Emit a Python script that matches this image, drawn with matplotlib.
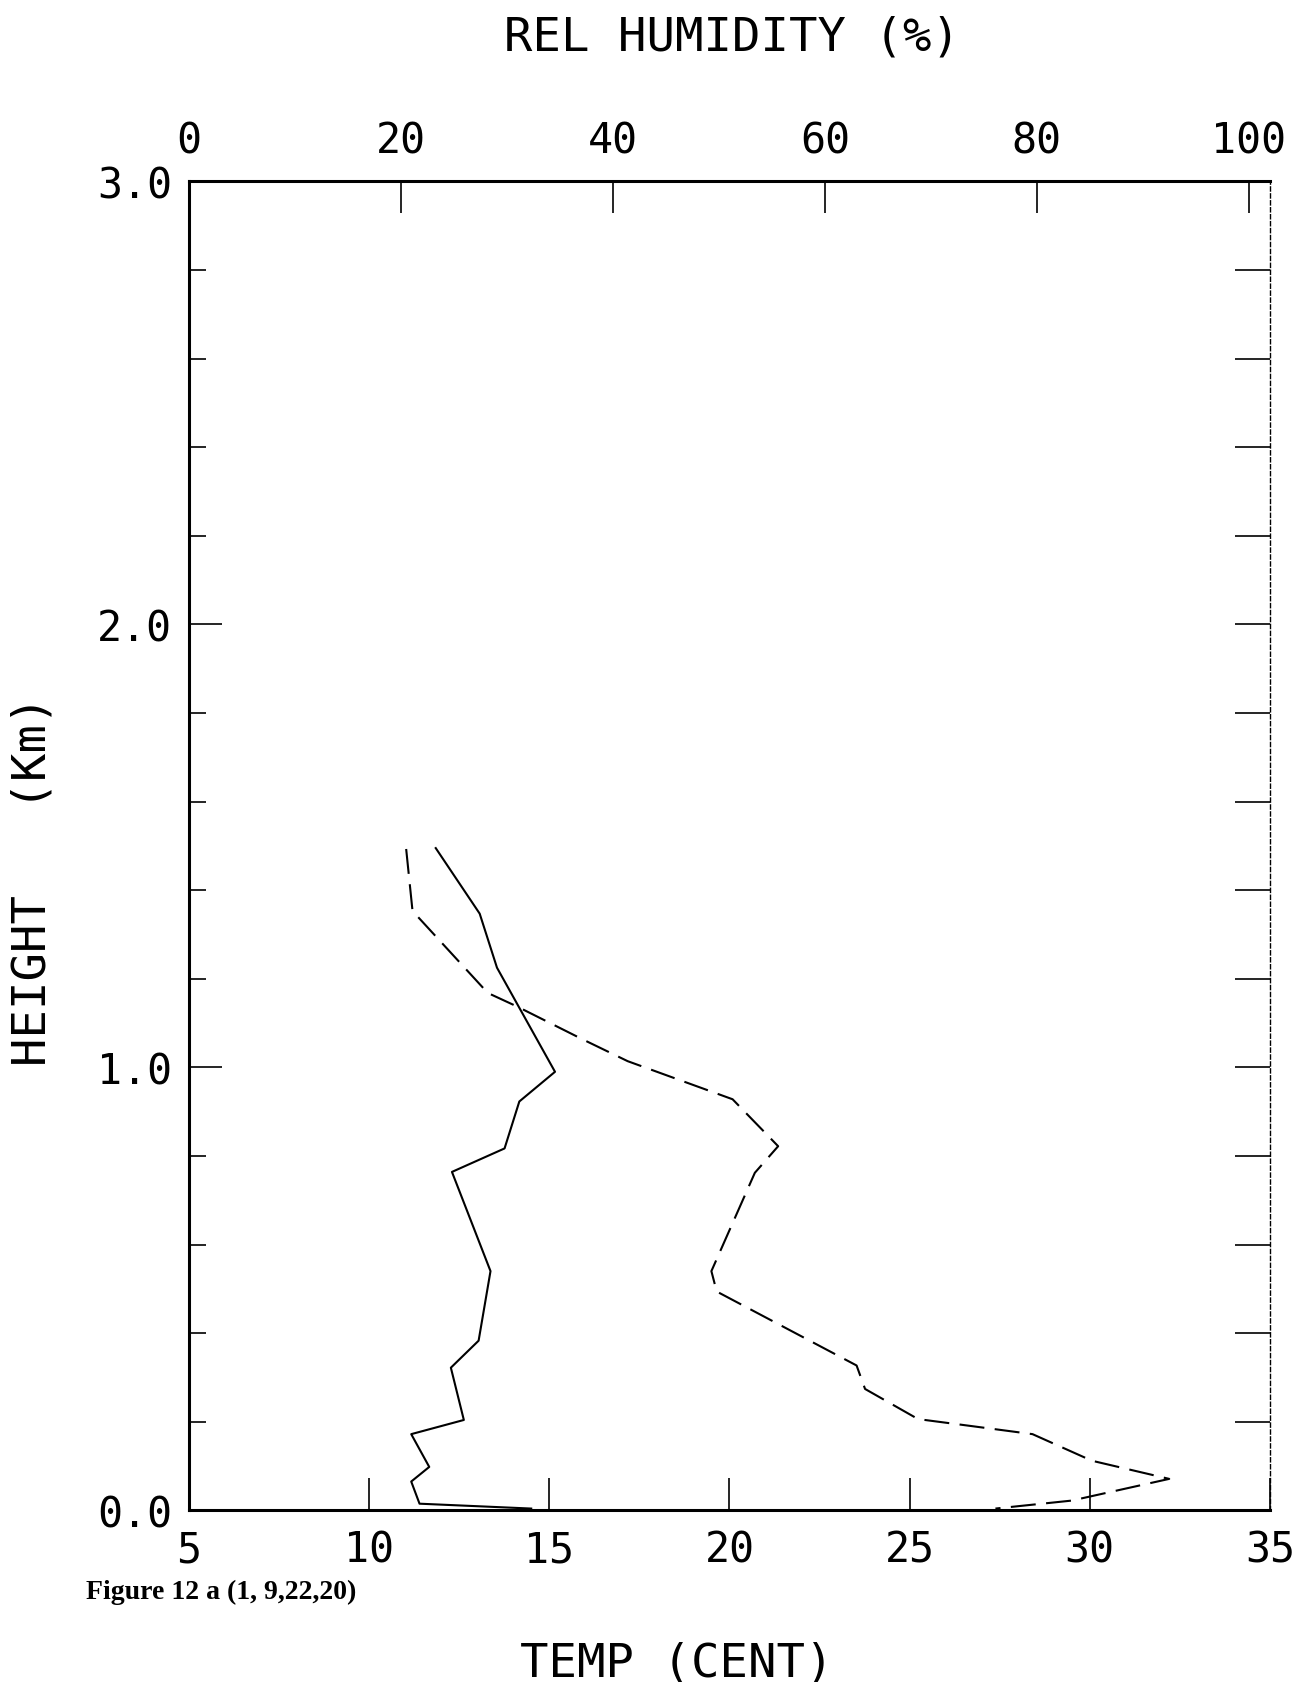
import numpy as np
import matplotlib
matplotlib.use('Agg')
import matplotlib.pyplot as plt

# temperature profile (solid line), deg C vs height km
temp_c = [11.85, 13.07, 13.55, 15.16, 14.17, 13.76, 12.30, 13.37, 13.04,
          12.27, 12.63, 11.17, 11.67, 11.17, 11.40, 14.50]
temp_h = [1.495, 1.347, 1.225, 0.990, 0.923, 0.817, 0.764, 0.540, 0.383,
          0.322, 0.204, 0.172, 0.098, 0.065, 0.015, 0.004]

# relative humidity profile (dashed line), % vs height km
rh_pct = [20.5, 21.1, 28.2, 31.0, 37.0, 41.4, 51.3, 55.6, 53.4, 49.3, 49.8,
          63.0, 63.8, 68.8, 73.6, 79.6, 85.2, 92.5, 83.3, 76.1]
rh_h = [1.493, 1.353, 1.168, 1.137, 1.065, 1.014, 0.928, 0.822, 0.762, 0.540,
        0.494, 0.327, 0.274, 0.206, 0.191, 0.172, 0.112, 0.071, 0.022, 0.004]

temp_ticks = [5, 10, 15, 20, 25, 30, 35]
rh_ticks = [0, 20, 40, 60, 80, 100]
height_major = [0.0, 1.0, 2.0, 3.0]
height_labels = ['0.0', '1.0', '2.0', '3.0']

mono = 'DejaVu Sans Mono'
fs = 30

fig = plt.figure(figsize=(13.01, 16.83), dpi=100)
ax = fig.add_axes([0.1452, 0.1020, 0.8309, 0.7896])

ax.plot(temp_c, temp_h, color='black', lw=1.5)
ax.set_xlim(5, 35)
ax.set_ylim(0, 3)

# bottom axis: temperature
ax.set_xticks(temp_ticks)
ax.set_xticklabels([str(t) for t in temp_ticks], family=mono, fontsize=fs)
ax.tick_params(axis='x', direction='in', length=23, width=1.2, pad=13,
               top=False, bottom=True)

# left axis: height
ax.set_yticks(height_major)
ax.set_yticklabels(height_labels, family=mono, fontsize=fs)
ax.set_yticks(np.arange(0, 3.01, 0.2), minor=True)
ax.tick_params(axis='y', which='major', direction='in', length=24, width=1.2, pad=12)
ax.tick_params(axis='y', which='minor', direction='in', length=12, width=1.2)

for s in ['left', 'bottom', 'top']:
    ax.spines[s].set_linewidth(2.2)
ax.spines['right'].set_linewidth(1.0)
ax.spines['right'].set_linestyle((0, (3, 2)))

# top axis: relative humidity
ax2 = ax.twiny()
ax2.plot(rh_pct, rh_h, color='black', lw=1.5, linestyle=(0, (12, 5)))
ax2.set_xlim(0, 102)
ax2.set_xticks(rh_ticks)
ax2.set_xticklabels([str(t) for t in rh_ticks], family=mono, fontsize=fs)
ax2.tick_params(axis='x', direction='in', length=23, width=1.2, pad=14)
for s in ax2.spines.values():
    s.set_visible(False)

# right side ticks
ax3 = ax.twinx()
ax3.set_ylim(0, 3)
ax3.set_yticks(np.arange(0, 3.01, 0.2))
ax3.tick_params(axis='y', direction='in', length=25, width=1.2, labelright=False)
for s in ax3.spines.values():
    s.set_visible(False)

fig.text(0.5627, 0.9775, 'REL HUMIDITY (%)', family=mono, fontsize=34,
         ha='center', va='center')
fig.text(0.520, 0.0114, 'TEMP (CENT)', family=mono, fontsize=34,
         ha='center', va='center')
fig.text(0.0255, 0.4765, 'HEIGHT   (Km)', family=mono, fontsize=34,
         ha='center', va='center', rotation=90)
fig.text(0.066, 0.054, 'Figure 12 a (1, 9,22,20)', family='Liberation Serif',
         fontsize=20, fontweight='bold', ha='left', va='center')

fig.savefig('out.png', dpi=100)
